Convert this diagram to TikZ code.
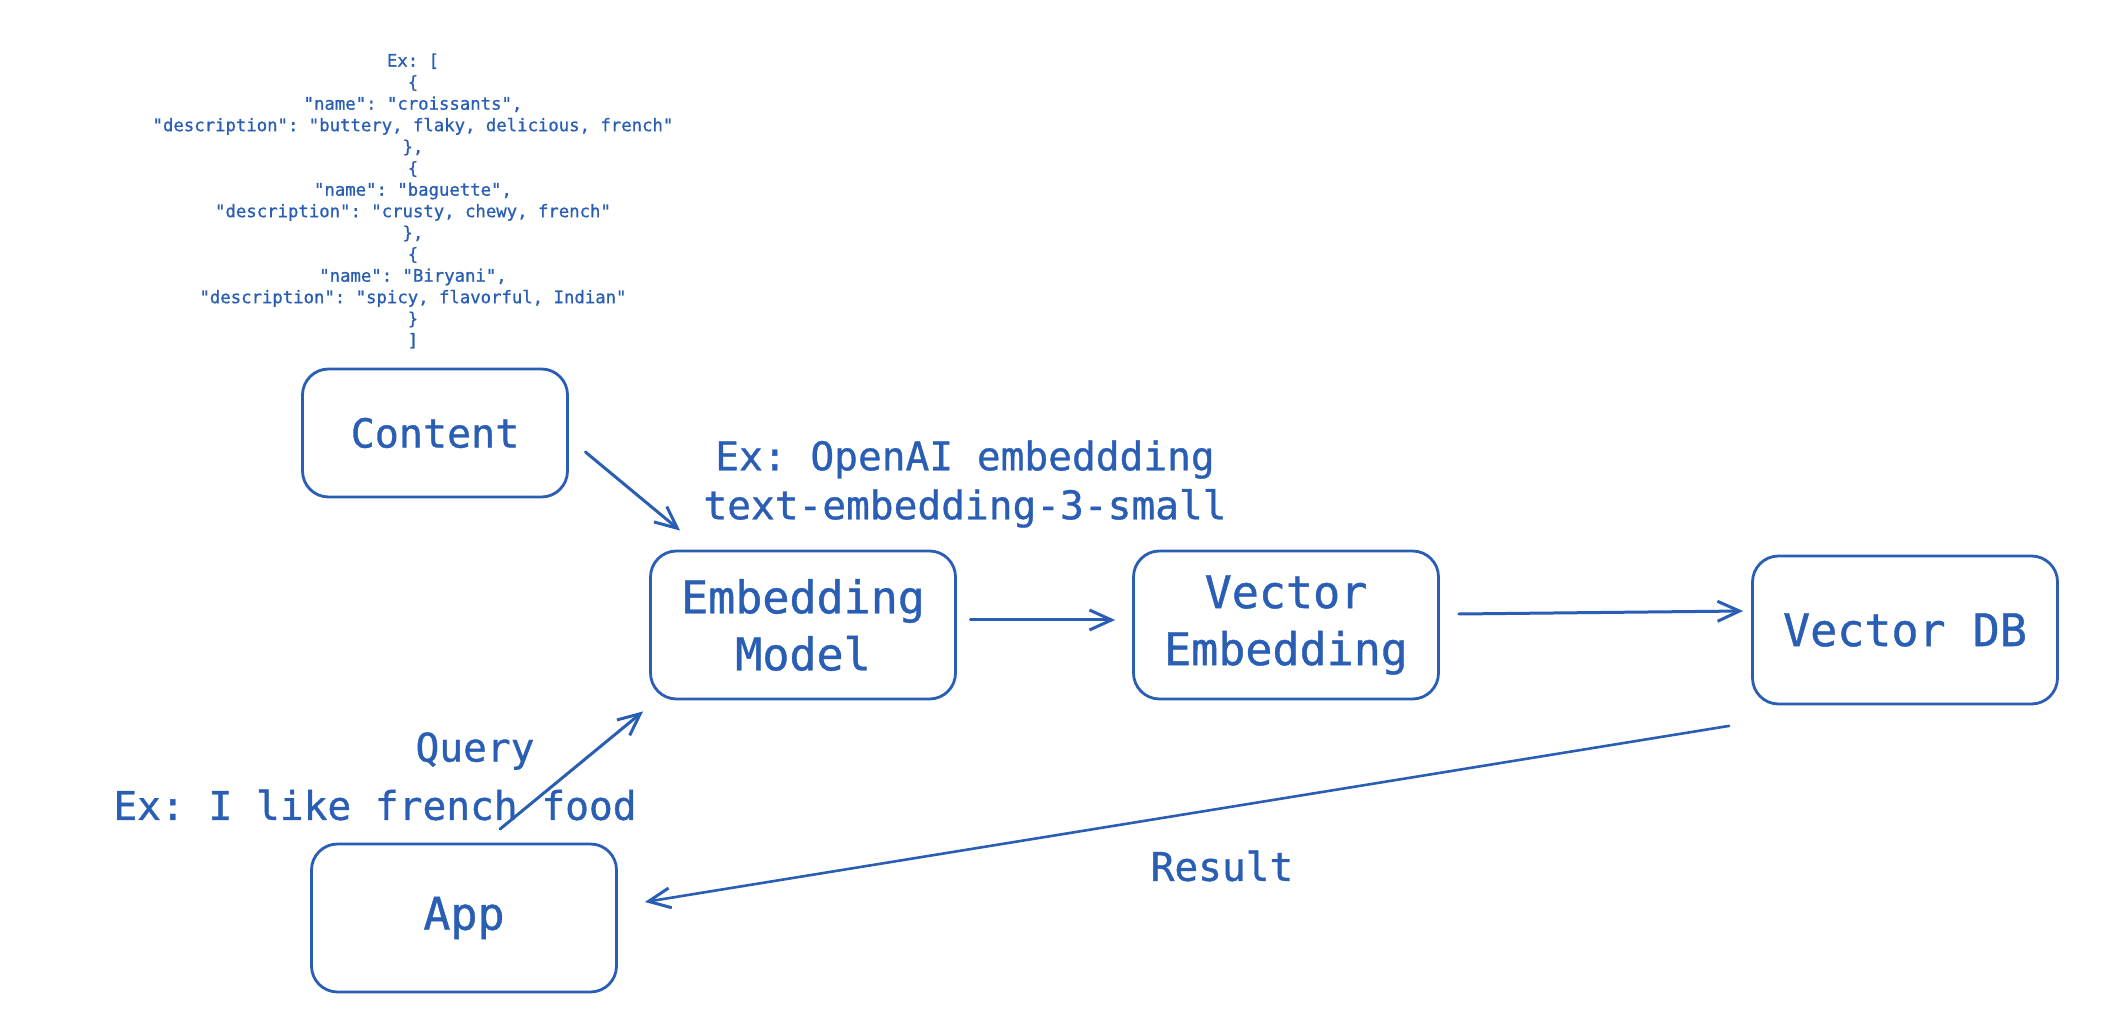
\documentclass[tikz,border=0pt]{standalone}
\usepackage{fontspec}
\setmonofont[FakeBold=0.9]{DejaVu Sans Mono}
\usetikzlibrary{arrows.meta,calc}
\definecolor{ink}{HTML}{2A5EB5}
\begin{document}
\begin{tikzpicture}[x=0.5pt,y=-0.5pt,
  box/.style={draw=ink, line width=1.4pt, rounded corners=13pt, text=ink,
    align=center, inner sep=0pt, minimum width=152.5pt, minimum height=74pt,
    font=\ttfamily\fontsize{22.5}{28.5}\selectfont},
  lbl/.style={text=ink, align=center, inner sep=0pt,
    font=\ttfamily\fontsize{19.75}{24.5}\selectfont},
  conn/.style={draw=ink, line width=1.5pt, line cap=round, line join=round,
    -{Straight Barb[length=11pt,width=10pt,line width=1.5pt]}}
]
\useasboundingbox (0,0) rectangle (2121,1036);
\fill[white] (0,0) rectangle (2121,1036);

% JSON example
\node[text=ink, align=center, inner sep=0pt,
  font=\ttfamily\fontsize{8.65}{10.75}\selectfont] (json) at (413,201)
  {Ex: [\\
   \{\\
   "name": "croissants",\\
   "description": "buttery, flaky, delicious, french"\\
   \},\\
   \{\\
   "name": "baguette",\\
   "description": "crusty, chewy, french"\\
   \},\\
   \{\\
   "name": "Biryani",\\
   "description": "spicy, flavorful, Indian"\\
   \}\\
   ]};

% boxes
\node[box, minimum width=132.5pt, minimum height=64pt,
  font=\ttfamily\fontsize{20}{25}\selectfont] (content) at (435,433) {Content};
\node[box] (embed) at (803,625) {Embedding\\Model};
\node[box] (vecemb) at (1286,625) {Vector\\Embedding};
\node[box] (vecdb) at (1905,630) {Vector DB};
\node[box] (app) at (464,918) {App};

% labels
\node[lbl] (openai) at (965,484) {Ex: OpenAI embeddding\\text-embedding-3-small};
\node[lbl] (query) at (475,751) {Query};
\node[lbl] (queryex) at (375,805) {Ex: I like french food};
\node[lbl] (result) at (1222,866) {Result};

% connectors
\draw[conn] ($(content.east)+(16.5,19)$) -- ($(embed.north west)+(31,-19)$);
\draw[conn] ($(embed.east)+(13.5,-5)$) -- ($(vecemb.west)+(-17,-5)$);
\draw[conn] ($(vecemb.east)+(19,-11)$) -- ($(vecdb.west)+(-8,-19)$);
\draw[conn, line width=1.3pt] ($(vecdb.south west)+(-22,20.5)$) -- ($(app.east)+(27,-16)$);
\draw[conn] ($(app.north)+(36,-13.5)$) -- ($(embed.south west)+(-6,11)$);
\end{tikzpicture}
\end{document}
